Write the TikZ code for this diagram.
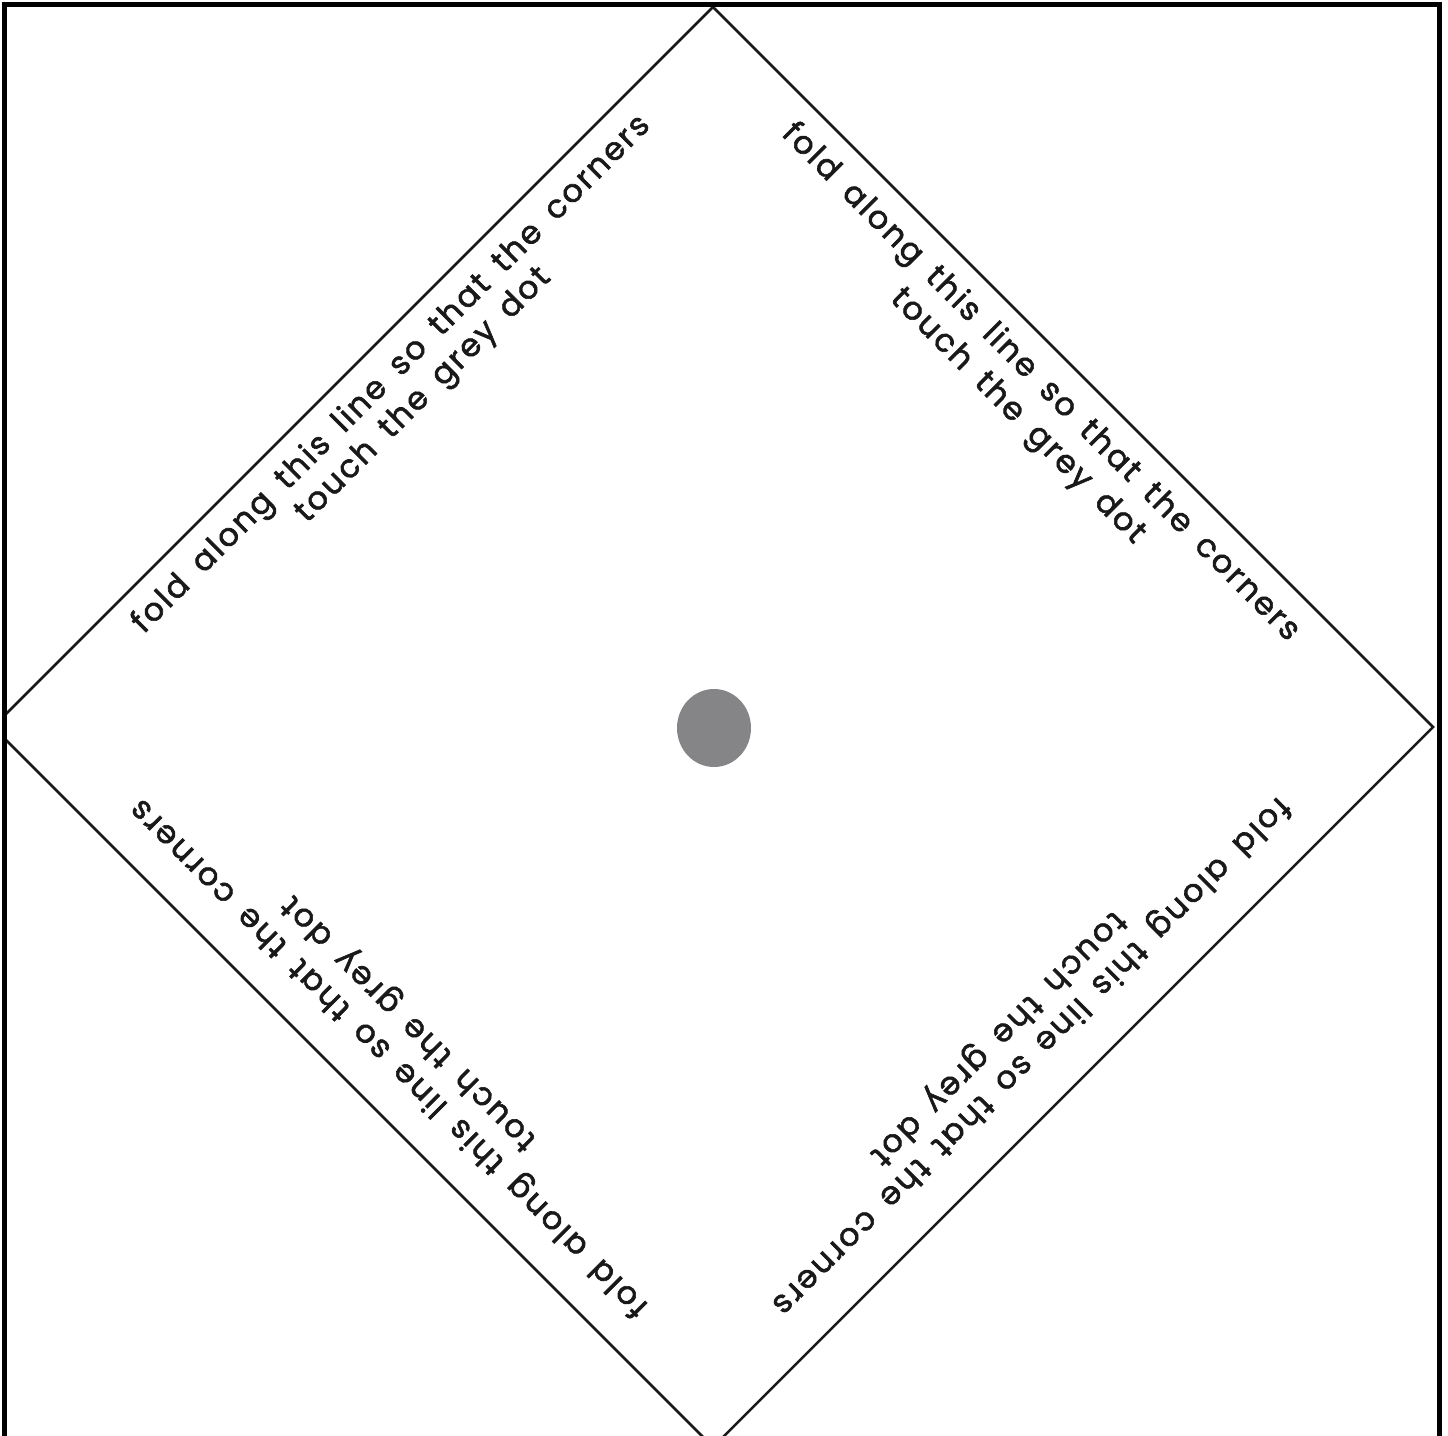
\documentclass[tikz,border=0pt]{standalone}
\usepackage{fontspec}
\usetikzlibrary{shapes.geometric}
\setmainfont{Poppins}[LetterSpace=7,WordSpace=1.6,FakeBold=1.8]
\definecolor{dotgrey}{HTML}{858588}
\begin{document}
\begin{tikzpicture}[x=1pt,y=-1pt,
  foldline/.style={line width=2.5pt,draw=black!90},
  frame/.style={line width=5.5pt,draw=black},
  label/.style={font=\fontsize{32}{36}\selectfont,text=black!90,inner sep=0pt,anchor=center}]
\useasboundingbox (0,0) rectangle (1448,1435);
\fill[white] (0,0) rectangle (1448,1435);
% diamond corners
\coordinate (T) at (713,7);
\coordinate (R) at (1433,727);
\coordinate (B) at (713,1447);
\coordinate (L) at (-7,727);
\begin{scope}
  \clip (7,7) rectangle (1437,1435);
  \draw[foldline,line join=miter] (T) -- (R) -- (B) -- (L) -- cycle;
\end{scope}
% frame
\draw[frame] (4.5,1440) -- (4.5,4.5) -- (1439.5,4.5) -- (1439.5,1440);
% grey dot
\node[ellipse,minimum width=74pt,minimum height=78pt,fill=dotgrey,inner sep=0pt] (dot) at (714,728) {};
% top-left
\node[label,rotate=45] (tl1) at (392,375) {fold along this line so that the corners};
\node[label,rotate=45] (tl2) at (424,396) {touch the grey dot};
% top-right
\node[label,rotate=-45] (tr1) at (1040,383) {fold along this line so that the corners};
\node[label,rotate=-45] (tr2) at (1017,417) {touch the grey dot};
% bottom-right
\node[label,rotate=225] (br1) at (1030,1055) {fold along this line so that the corners};
\node[label,rotate=225] (br2) at (997,1037) {touch the grey dot};
% bottom-left
\node[label,rotate=135] (bl1) at (390,1057) {fold along this line so that the corners};
\node[label,rotate=135] (bl2) at (410,1022) {touch the grey dot};
\end{tikzpicture}
\end{document}
